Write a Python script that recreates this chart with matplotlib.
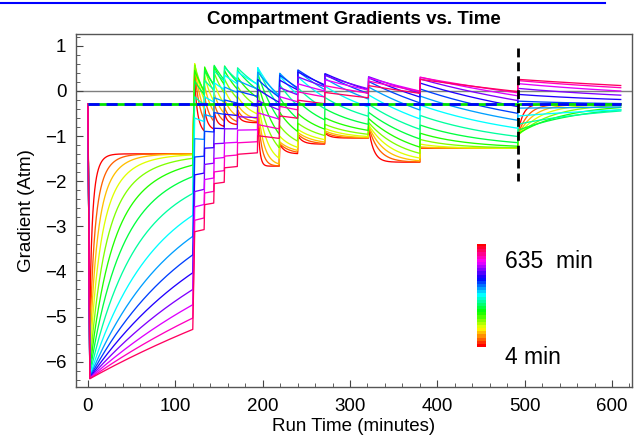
import numpy as np
import matplotlib
matplotlib.use("Agg")
import matplotlib.pyplot as plt
from matplotlib.colors import hsv_to_rgb
from matplotlib.lines import Line2D
from matplotlib.ticker import MultipleLocator

plt.rcParams["font.family"] = ["Liberation Sans", "DejaVu Sans"]

# ZH-L16 compartment half-times (minutes): nitrogen and helium
HALF_TIME_N2 = [4.0, 8.0, 12.5, 18.5, 27.0, 38.3, 54.3, 77.0, 109.0, 146.0,
                187.0, 239.0, 305.0, 390.0, 498.0, 635.0]
HALF_TIME_HE = [1.51, 3.02, 4.72, 6.99, 10.21, 14.48, 20.53, 29.11, 41.20, 55.19,
                70.69, 90.34, 115.29, 147.42, 188.24, 240.03]

# Dive plan: minute each level is headed for, ambient pressure there (atm),
# and helium / nitrogen fractions of the gas breathed on that level
LEVEL_START = [0, 120, 133, 144, 156, 171, 194, 219, 240, 271, 321, 380, 492]
LEVEL_PRESSURE = [7.1, 4.95, 4.40, 3.97, 3.65, 3.38, 3.00, 2.50, 2.10, 1.85, 1.58, 1.27, 1.0]
LEVEL_FHE = [0.42, 0.42, 0.42, 0.42, 0.42, 0.42, 0.0, 0.0, 0.0, 0.0, 0.0, 0.0, 0.0]
LEVEL_FN2 = [0.395, 0.395, 0.395, 0.395, 0.395, 0.395, 0.46, 0.46, 0.46, 0.46, 0.0, 0.0, 0.79]
END_TIME = 610.0

SURFACE_PRESSURE = 1.0
AIR_FN2 = 0.79
ALVEOLAR_LOSS = 0.1       # atm lost to water vapour / CO2 in the lung
DESCENT_RATE = 3.0        # atm per minute
ASCENT_RATE = 1.0         # atm per minute
DT = 0.1

# time at which the diver surfaces (marked with a dashed line)
SURFACING_TIME = LEVEL_START[-1]


def ambient(t):
    k = int(np.searchsorted(LEVEL_START, t, side="right") - 1)
    p_prev = SURFACE_PRESSURE if k == 0 else LEVEL_PRESSURE[k - 1]
    p_new = LEVEL_PRESSURE[k]
    rate = DESCENT_RATE if p_new > p_prev else ASCENT_RATE
    dur = abs(p_new - p_prev) / rate
    dt = t - LEVEL_START[k]
    if dur == 0 or dt >= dur:
        return p_new, k
    return p_prev + (p_new - p_prev) * dt / dur, k


ht_n2 = np.array(HALF_TIME_N2)
ht_he = np.array(HALF_TIME_HE)
k_n2 = 1 - np.exp(-np.log(2) * DT / ht_n2)
k_he = 1 - np.exp(-np.log(2) * DT / ht_he)

times = np.arange(0, END_TIME + DT / 2, DT)
n2 = np.full(len(ht_n2), AIR_FN2 * (SURFACE_PRESSURE - ALVEOLAR_LOSS))
he = np.zeros(len(ht_he))
grad = np.zeros((len(times), len(ht_n2)))
grad[0] = n2 + he - SURFACE_PRESSURE
for i in range(1, len(times)):
    p_mid, k = ambient(0.5 * (times[i - 1] + times[i]))
    he += (LEVEL_FHE[k] * (p_mid - ALVEOLAR_LOSS) - he) * k_he
    n2 += (LEVEL_FN2[k] * (p_mid - ALVEOLAR_LOSS) - n2) * k_n2
    p_end, _ = ambient(times[i])
    grad[i] = n2 + he - p_end

surface_gradient = AIR_FN2 * (SURFACE_PRESSURE - ALVEOLAR_LOSS) - SURFACE_PRESSURE

n_comp = len(ht_n2)
colors = [hsv_to_rgb((i / n_comp, 1.0, 1.0)) for i in range(n_comp)]

fig = plt.figure(figsize=(6.4, 4.4), dpi=100)
ax = fig.add_axes([76 / 640, 53 / 440, 556 / 640, 353 / 440])

ax.axhline(0, color="#7f7f7f", lw=1.0, zorder=1)
for i in range(n_comp):
    ax.plot(times, grad[:, i], color=colors[i], lw=0.95, zorder=2)

ax.plot([0, END_TIME], [surface_gradient] * 2, color="#00e000", lw=2.0, zorder=3,
        solid_capstyle="butt")
ax.plot([0, END_TIME], [surface_gradient] * 2, color="#0000ff", lw=2.0, zorder=3,
        dashes=(4, 2.5))
ax.plot([SURFACING_TIME] * 2, [0.95, -2.0], color="black", lw=2.0, zorder=4,
        dashes=(3.2, 1.8))

ax.set_xlim(-13.7, 622.9)
ax.set_ylim(-6.56, 1.26)
ax.xaxis.set_major_locator(MultipleLocator(100))
ax.xaxis.set_minor_locator(MultipleLocator(20))
ax.yaxis.set_major_locator(MultipleLocator(1))
ax.yaxis.set_minor_locator(MultipleLocator(0.2))
ax.tick_params(which="both", direction="in", colors="#444444", labelcolor="black",
               labelsize=13.5, top=False, right=False)
ax.tick_params(which="major", length=5, width=0.8)
ax.tick_params(which="minor", length=2.8, width=0.6)
ax.tick_params(axis="y", pad=7)
ax.tick_params(axis="x", pad=8)
for s in ax.spines.values():
    s.set_color("#555555")
    s.set_linewidth(1.0)

ax.set_xlabel("Run Time (minutes)", fontsize=13.5, labelpad=2)
ax.set_ylabel("Gradient (Atm)", fontsize=13.5, labelpad=7)

fig.text(354 / 640, 1 - 19 / 440, "Compartment Gradients vs. Time",
         ha="center", va="center", fontsize=13.5, fontweight="bold")

# hue key for the compartment half-times
cax = fig.add_axes([477 / 640, 1 - 347 / 440, 9 / 640, 103 / 440])
hues = np.linspace(1.0, 0.0, 33)
bar = hsv_to_rgb(np.stack([hues, np.ones_like(hues), np.ones_like(hues)], axis=-1))
cax.imshow(bar[:, None, :], aspect="auto", interpolation="nearest")
cax.set_axis_off()
fig.text(505 / 640, 1 - 261 / 440, f"{HALF_TIME_N2[-1]:.0f}  min",
         ha="left", va="center", fontsize=16.5)
fig.text(505 / 640, 1 - 357 / 440, f"{HALF_TIME_N2[0]:.0f} min",
         ha="left", va="center", fontsize=16.5)

fig.add_artist(Line2D([0, 605 / 640], [1 - 3 / 440] * 2, color="#0000ff", lw=1.5))

fig.savefig("out.png", dpi=100)
